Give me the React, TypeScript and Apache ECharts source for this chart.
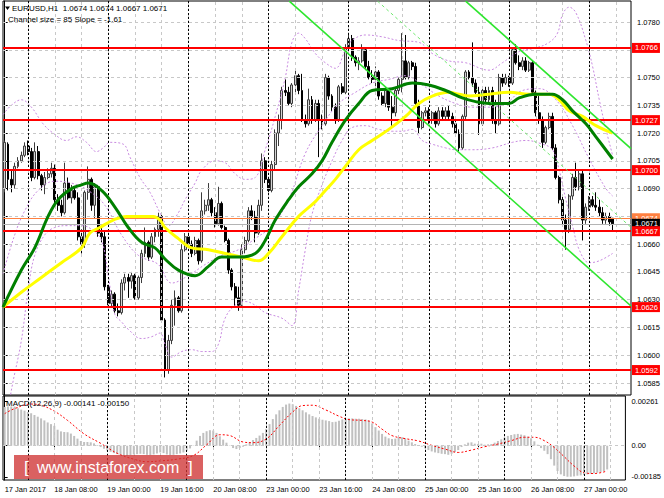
import React, { useEffect, useRef } from "react";
import * as echarts from "echarts";

const FONT = "'Liberation Sans', Arial, sans-serif";

// ---- axes / ticks ----
const slotCount = 188;
const categories = Array.from({ length: slotCount }, (_, i) => String(i));
const xTickIndex = [0, 15, 31, 47, 63, 79, 95, 111, 127, 143, 159, 175];
const xTickText = [
  "17 Jan 2017", "18 Jan 08:00", "19 Jan 00:00", "19 Jan 16:00", "20 Jan 08:00", "23 Jan 00:00",
  "23 Jan 16:00", "24 Jan 08:00", "25 Jan 00:00", "25 Jan 16:00", "26 Jan 08:00", "27 Jan 00:00",
];
const gridColumns = [7, 15, 23, 31, 39, 47, 55, 63, 71, 79, 87, 95, 103, 111, 119, 127, 135, 143, 151, 159, 167, 175, 183];
const daySeparators = [7, 31, 55, 79, 103, 127, 151, 175];
const priceTicks = [1.0585, 1.06, 1.0615, 1.063, 1.0645, 1.066, 1.0675, 1.069, 1.0705, 1.072, 1.0735, 1.075, 1.0765, 1.078];
// labels that are not covered by the price tags
const priceLabels = [1.0585, 1.06, 1.0615, 1.063, 1.0645, 1.066, 1.069, 1.0705, 1.072, 1.0735, 1.075, 1.078];
const macdTicks = [-0.00185, 0, 0.00261];

// ---- levels ----
const levelLines = [1.0766, 1.0727, 1.07, 1.0626, 1.0592];
const supportLevel = 1.0667;
const askPrice = 1.0674;
const bidPrice = 1.0671;

// ---- candles [open, close, low, high] ----
const candles = [
  [1.0690,1.0715,1.0688,1.0716],[1.0714,1.0695,1.0689,1.0715],[1.0695,1.0692,1.0688,1.0700],[1.0692,1.0702,1.0690,1.0704],
  [1.0702,1.0705,1.0701,1.0707],[1.0705,1.0708,1.0704,1.0710],[1.0708,1.0713,1.0707,1.0715],[1.0713,1.0710,1.0708,1.0716],
  [1.0710,1.0696,1.0694,1.0712],[1.0696,1.0710,1.0695,1.0715],[1.0710,1.0697,1.0695,1.0713],[1.0697,1.0692,1.0689,1.0698],
  [1.0692,1.0696,1.0687,1.0699],[1.0696,1.0698,1.0695,1.0701],[1.0698,1.0701,1.0696,1.0704],[1.0701,1.0684,1.0682,1.0703],
  [1.0684,1.0681,1.0678,1.0687],[1.0681,1.0677,1.0675,1.0684],[1.0677,1.0693,1.0676,1.0704],[1.0693,1.0685,1.0684,1.0696],
  [1.0685,1.0689,1.0682,1.0692],[1.0689,1.0685,1.0684,1.0691],[1.0685,1.0664,1.0662,1.0688],[1.0664,1.0660,1.0655,1.0668],
  [1.0660,1.0688,1.0658,1.0689],[1.0688,1.0695,1.0684,1.0702],[1.0695,1.0681,1.0678,1.0696],[1.0681,1.0691,1.0674,1.0693],
  [1.0691,1.0666,1.0664,1.0692],[1.0666,1.0664,1.0661,1.0670],[1.0664,1.0637,1.0635,1.0667],[1.0637,1.0628,1.0627,1.0638],
  [1.0628,1.0633,1.0626,1.0635],[1.0633,1.0624,1.0623,1.0634],[1.0624,1.0623,1.0621,1.0628],[1.0623,1.0639,1.0622,1.0641],
  [1.0639,1.0642,1.0635,1.0644],[1.0642,1.0640,1.0631,1.0644],[1.0640,1.0643,1.0636,1.0645],[1.0643,1.0631,1.0630,1.0644],
  [1.0631,1.0642,1.0630,1.0643],[1.0642,1.0655,1.0639,1.0657],[1.0655,1.0661,1.0653,1.0669],[1.0661,1.0653,1.0651,1.0662],
  [1.0653,1.0664,1.0652,1.0666],[1.0664,1.0668,1.0661,1.0669],[1.0668,1.0675,1.0664,1.0677],[1.0675,1.0619,1.0618,1.0676],
  [1.0619,1.0592,1.0588,1.0620],[1.0592,1.0608,1.0590,1.0611],[1.0608,1.0627,1.0606,1.0630],[1.0627,1.0631,1.0616,1.0635],
  [1.0631,1.0624,1.0623,1.0632],[1.0624,1.0657,1.0623,1.0660],[1.0657,1.0664,1.0656,1.0666],[1.0664,1.0660,1.0658,1.0666],
  [1.0660,1.0655,1.0653,1.0662],[1.0655,1.0662,1.0654,1.0664],[1.0662,1.0651,1.0649,1.0663],[1.0651,1.0678,1.0650,1.0688],
  [1.0678,1.0681,1.0676,1.0684],[1.0681,1.0684,1.0678,1.0693],[1.0684,1.0677,1.0675,1.0685],[1.0677,1.0671,1.0669,1.0680],
  [1.0671,1.0682,1.0670,1.0691],[1.0682,1.0669,1.0668,1.0683],[1.0669,1.0662,1.0661,1.0670],[1.0662,1.0646,1.0644,1.0663],
  [1.0646,1.0637,1.0635,1.0647],[1.0637,1.0631,1.0626,1.0639],[1.0631,1.0627,1.0624,1.0637],[1.0627,1.0657,1.0626,1.0660],
  [1.0657,1.0662,1.0655,1.0664],[1.0662,1.0678,1.0661,1.0680],[1.0678,1.0675,1.0673,1.0681],[1.0675,1.0666,1.0661,1.0678],
  [1.0666,1.0681,1.0665,1.0684],[1.0681,1.0705,1.0678,1.0709],[1.0705,1.0695,1.0693,1.0707],[1.0695,1.0689,1.0688,1.0696],
  [1.0689,1.0703,1.0688,1.0705],[1.0703,1.0720,1.0700,1.0722],[1.0720,1.0727,1.0713,1.0730],[1.0727,1.0743,1.0722,1.0745],
  [1.0743,1.0742,1.0740,1.0749],[1.0742,1.0736,1.0735,1.0745],[1.0736,1.0746,1.0734,1.0747],[1.0746,1.0751,1.0742,1.0754],
  [1.0751,1.0743,1.0741,1.0752],[1.0743,1.0727,1.0726,1.0752],[1.0727,1.0725,1.0723,1.0730],[1.0725,1.0738,1.0724,1.0744],
  [1.0738,1.0727,1.0725,1.0740],[1.0727,1.0736,1.0726,1.0738],[1.0736,1.0727,1.0707,1.0738],[1.0727,1.0725,1.0722,1.0730],
  [1.0725,1.0750,1.0724,1.0752],[1.0750,1.0740,1.0738,1.0751],[1.0740,1.0734,1.0732,1.0741],[1.0734,1.0727,1.0725,1.0736],
  [1.0727,1.0745,1.0726,1.0746],[1.0745,1.0742,1.0741,1.0747],[1.0742,1.0766,1.0741,1.0768],[1.0766,1.0771,1.0765,1.0773],
  [1.0771,1.0761,1.0759,1.0773],[1.0761,1.0758,1.0756,1.0762],[1.0758,1.0759,1.0754,1.0761],[1.0759,1.0765,1.0758,1.0768],
  [1.0765,1.0756,1.0754,1.0766],[1.0756,1.0750,1.0749,1.0759],[1.0750,1.0749,1.0747,1.0754],[1.0749,1.0753,1.0743,1.0756],
  [1.0753,1.0740,1.0738,1.0754],[1.0740,1.0736,1.0735,1.0742],[1.0736,1.0743,1.0734,1.0745],[1.0743,1.0734,1.0732,1.0744],
  [1.0734,1.0731,1.0724,1.0740],[1.0731,1.0743,1.0729,1.0745],[1.0743,1.0749,1.0741,1.0750],[1.0749,1.0759,1.0742,1.0774],
  [1.0759,1.0750,1.0749,1.0773],[1.0750,1.0758,1.0749,1.0759],[1.0758,1.0756,1.0754,1.0759],[1.0756,1.0736,1.0734,1.0758],
  [1.0736,1.0723,1.0720,1.0738],[1.0723,1.0731,1.0722,1.0732],[1.0731,1.0732,1.0729,1.0734],[1.0732,1.0727,1.0725,1.0734],
  [1.0727,1.0731,1.0725,1.0732],[1.0731,1.0725,1.0723,1.0732],[1.0725,1.0732,1.0724,1.0734],[1.0732,1.0729,1.0727,1.0734],
  [1.0729,1.0732,1.0727,1.0734],[1.0732,1.0729,1.0727,1.0735],[1.0729,1.0725,1.0723,1.0731],[1.0725,1.0720,1.0718,1.0727],
  [1.0720,1.0712,1.0710,1.0722],[1.0712,1.0729,1.0711,1.0730],[1.0729,1.0753,1.0727,1.0754],[1.0753,1.0750,1.0749,1.0754],
  [1.0750,1.0747,1.0745,1.0769],[1.0747,1.0742,1.0741,1.0749],[1.0742,1.0725,1.0719,1.0745],[1.0725,1.0743,1.0724,1.0745],
  [1.0743,1.0738,1.0736,1.0745],[1.0738,1.0743,1.0736,1.0745],[1.0743,1.0727,1.0725,1.0745],[1.0727,1.0725,1.0720,1.0738],
  [1.0725,1.0750,1.0724,1.0752],[1.0750,1.0747,1.0745,1.0752],[1.0747,1.0750,1.0746,1.0752],[1.0750,1.0747,1.0745,1.0751],
  [1.0747,1.0765,1.0746,1.0766],[1.0765,1.0758,1.0757,1.0768],[1.0758,1.0756,1.0754,1.0762],[1.0756,1.0759,1.0754,1.0761],
  [1.0759,1.0754,1.0753,1.0761],[1.0754,1.0758,1.0753,1.0759],[1.0758,1.0742,1.0741,1.0759],[1.0742,1.0731,1.0729,1.0743],
  [1.0731,1.0727,1.0725,1.0740],[1.0727,1.0715,1.0712,1.0729],[1.0715,1.0723,1.0714,1.0724],[1.0723,1.0729,1.0722,1.0731],
  [1.0729,1.0712,1.0711,1.0731],[1.0712,1.0696,1.0695,1.0714],[1.0696,1.0684,1.0682,1.0697],[1.0684,1.0673,1.0670,1.0686],
  [1.0673,1.0668,1.0657,1.0676],[1.0668,1.0686,1.0666,1.0687],[1.0686,1.0696,1.0684,1.0698],[1.0696,1.0691,1.0689,1.0704],
  [1.0691,1.0698,1.0689,1.0700],[1.0698,1.0673,1.0662,1.0700],[1.0673,1.0680,1.0671,1.0682],[1.0680,1.0684,1.0678,1.0686],
  [1.0684,1.0681,1.0680,1.0686],[1.0681,1.0680,1.0678,1.0688],[1.0680,1.0677,1.0675,1.0684],[1.0677,1.0673,1.0671,1.0680],
  [1.0673,1.0675,1.0671,1.0677],[1.0675,1.0672,1.0670,1.0677],[1.0674,1.0671,1.0667,1.0674],
];

// ---- moving averages [bar, price] ----
const greenMA = [
  [-0.5,1.0626],[5,1.0646],[9,1.0658],[13,1.0675],[16,1.0684],[20,1.0690],[23,1.0692],[25,1.0693],[29,1.0689],
  [33,1.0680],[37,1.0669],[41,1.0661],[45,1.0658],[48,1.0652],[52,1.0646],[57,1.0643],[61,1.0648],[65,1.0653],
  [70,1.0653],[75,1.0655],[78,1.0662],[81,1.0673],[85,1.0684],[88,1.0691],[92,1.0698],[95,1.0705],[98,1.0715],
  [102,1.0727],[106,1.0736],[110,1.0743],[116,1.0744],[122,1.0747],[127,1.0746],[132,1.0743],[137,1.0739],
  [141,1.0737],[145,1.0736],[151,1.0736],[154,1.0739],[159,1.0741],[164,1.0741],[167,1.0738],[170,1.0732],
  [174,1.0725],[177,1.0718],[182,1.0706],
];
const yellowMA = [
  [-0.5,1.0626],[5,1.0634],[11,1.0642],[17,1.0650],[23,1.0658],[25.5,1.0666],[28.5,1.0669],[32.5,1.0673],
  [36.5,1.0675],[40.5,1.0675],[44.5,1.0675],[46.5,1.0673],[48,1.0669],[52,1.0663],[56,1.0658],[61,1.0657],
  [66,1.0655],[71,1.0653],[76,1.0651],[79,1.0655],[83,1.0664],[88,1.0675],[93,1.0683],[96,1.0689],[99,1.0695],
  [102,1.0702],[106,1.0711],[110,1.0716],[115,1.0722],[120,1.0729],[124,1.0736],[128,1.0740],[133,1.0742],
  [136,1.0741],[139,1.0740],[145,1.0741],[151,1.0742],[157,1.0741],[163,1.0741],[166,1.0738],[169,1.0732],
  [173,1.0729],[177,1.0724],[182,1.0720],
];

// ---- bands [bar, price] ----
const bandUpper = [
  [-0.5,1.0730],[2,1.0735],[5,1.0738],[8,1.0734],[11.5,1.0725],[14.5,1.0720],[18.5,1.0716],[21.5,1.0718],
  [24.5,1.0715],[27.5,1.0710],[29.5,1.0712],[31.5,1.0715],[35.5,1.0714],[37.5,1.0707],[40.5,1.0696],
  [43.5,1.0688],[46.5,1.0677],[49,1.0670],[52,1.0677],[54,1.0684],[57,1.0693],[59,1.0700],[63,1.0705],
  [66,1.0704],[69,1.0698],[72,1.0695],[75,1.0696],[78,1.0711],[81,1.0729],[84,1.0750],[86,1.0769],[88,1.0774],
  [90,1.0771],[93,1.0763],[96,1.0758],[99,1.0755],[102,1.0765],[104,1.0770],[108,1.0773],[113,1.0772],
  [118,1.0770],[124,1.0769],[128,1.0763],[133,1.0759],[138,1.0758],[145,1.0754],[149,1.0758],[154,1.0764],
  [159,1.0766],[163,1.0769],[165.5,1.0774],[167,1.0784],[169,1.0788],[171,1.0785],[174,1.0770],[176,1.0756],
  [178,1.0738],[180,1.0722],[182,1.0708],
];
const bandMiddle = [
  [-0.5,1.0644],[3,1.0665],[6,1.0678],[10,1.0689],[15,1.0694],[20,1.0693],[25,1.0689],[30,1.0681],[35,1.0665],
  [40,1.0654],[46,1.0649],[50,1.0639],[55,1.0643],[60,1.0649],[65,1.0654],[70,1.0657],[75,1.0663],[80,1.0670],
  [85,1.0684],[90,1.0709],[95,1.0724],[100,1.0736],[105,1.0742],[110,1.0747],[115,1.0749],[120,1.0751],
  [125,1.0746],[130,1.0740],[135,1.0736],[140,1.0734],[145,1.0734],[150,1.0736],[155,1.0743],[160,1.0744],
  [165,1.0738],[170,1.0724],[175,1.0706],[180,1.0690],[182,1.0686],
];
const bandLower = [
  [1,1.0568],[2,1.0581],[5,1.0608],[7,1.0635],[9,1.0654],[12,1.0665],[15,1.0669],[19,1.0670],[23,1.0670],
  [26,1.0668],[29,1.0662],[31,1.0643],[33,1.0622],[35,1.0618],[37,1.0614],[41,1.0609],[44,1.0610],[46.5,1.0612],
  [48,1.0606],[50,1.0599],[53,1.0602],[56,1.0603],[59,1.0602],[62,1.0602],[64,1.0606],[66,1.0620],[69,1.0627],
  [72,1.0629],[75,1.0627],[78,1.0623],[83,1.0620],[86,1.0616],[88,1.0635],[90,1.0657],[92,1.0676],[95,1.0692],
  [98,1.0705],[101,1.0716],[104,1.0723],[108,1.0724],[112,1.0722],[116,1.0721],[119,1.0721],[122,1.0722],
  [125,1.0716],[128,1.0714],[132,1.0712],[135,1.0711],[140,1.0711],[146,1.0712],[152,1.0715],[156,1.0716],
  [161,1.0714],[164,1.0711],[166,1.0700],[168,1.0684],[170,1.0670],[172,1.0657],[175,1.0650],[178,1.0651],
  [182,1.0655],
];

// ---- regression channel (size 85, slope -1.61) ----
const channelUpper = [[138.0, 1.07913], [187.5, 1.07116]];
const channelMiddle = [[111.6, 1.07913], [187.5, 1.06691]];
const channelLower = [[85.2, 1.07913], [187.5, 1.06266]];

// ---- MACD ----
const macdHist = [
  0.00230,0.00232,0.00233,0.00232,
  0.00222,0.00214,0.00208,0.00200,0.00192,0.00182,
  0.00172,0.00162,0.00150,
  0.00138,0.00128,0.00118,
  0.00095,0.00085,0.00082,0.00080,0.00072,
  0.00058,0.00042,
  0.00028,0.00022,0.00022,0.00020,0.00014,
  0.00004,-0.00008,-0.00018,-0.00028,
  -0.00036,-0.00044,-0.00050,-0.00055,-0.00058,-0.00060,-0.00056,-0.00052,-0.00050,-0.00048,-0.00050,-0.00054,
  -0.00056,-0.00052,-0.00046,-0.00040,-0.00044,-0.00052,-0.00056,-0.00054,-0.00050,-0.00046,-0.00040,
  -0.00030,-0.00016,0.00002,
  0.00030,0.00058,0.00076,0.00086,0.00092,0.00090,
  0.00076,0.00056,0.00036,0.00018,0.00002,
  -0.00014,-0.00020,-0.00014,-0.00006,
  0.00008,0.00020,0.00034,0.00046,0.00060,0.00076,
  0.00100,0.00128,0.00158,0.00186,0.00210,0.00230,0.00244,0.00250,
  0.00246,0.00236,0.00222,0.00210,0.00198,0.00186,0.00176,0.00168,0.00160,0.00154,0.00150,0.00146,
  0.00140,0.00142,0.00148,
  0.00156,0.00160,0.00162,0.00162,0.00160,0.00160,0.00158,0.00156,0.00150,
  0.00132,0.00110,0.00090,0.00070,0.00054,
  0.00044,0.00040,0.00042,0.00048,0.00050,0.00044,
  0.00030,0.00020,0.00010,0.00002,-0.00006,
  -0.00016,-0.00026,-0.00034,-0.00040,-0.00044,-0.00048,-0.00050,-0.00054,-0.00048,-0.00038,-0.00026,
  -0.00008,0.00008,0.00018,0.00020,
  0.00012,0.00010,0.00012,0.00006,0.00008,0.00010,0.00018,0.00028,
  0.00038,0.00048,0.00058,0.00064,0.00068,0.00070,0.00066,0.00062,0.00054,0.00044,
  0.00026,0.00006,-0.00014,-0.00030,-0.00050,-0.00080,-0.00118,
  -0.00150,-0.00170,-0.00180,-0.00184,-0.00184,-0.00182,-0.00178,-0.00176,-0.00174,-0.00170,-0.00166,-0.00164,
  -0.00160,-0.00156,-0.00150,-0.00141,
];
const macdSignal = [
  [0,0.00190],[3,0.00220],[8,0.00247],[11,0.00240],[15,0.00205],[19,0.00150],[24,0.00070],[29,0.00014],
  [34,-0.00045],[39,-0.00080],[43,-0.00095],[47,-0.00090],[52,-0.00080],[57,-0.00058],[61,0.00005],[65,0.00065],
  [68,0.00060],[72,0.00022],[75,0.00018],[79,0.00040],[83,0.00120],[87,0.00200],[90,0.00238],[93,0.00240],
  [97,0.00212],[101,0.00175],[104,0.00155],[108,0.00150],[111,0.00140],[114,0.00098],[117,0.00060],[121,0.00042],
  [125,0.00028],[129,0.00002],[133,-0.00020],[137,-0.00040],[141,-0.00026],[145,-0.00006],[149,0.00010],
  [153,0.00030],[157,0.00050],[160,0.00050],[163,0.00030],[166,-0.00010],[169,-0.00065],[172,-0.00120],
  [175,-0.00160],[178,-0.00165],[182,-0.00150],
];

// ---- layout constants ----
const PRICE_MIN = 1.057852;
const PRICE_MAX = 1.079135;
const MACD_MIN = -0.002034;
const MACD_MAX = 0.002948;

function tag(text: string, bg: string, fg = "#ffffff") {
  return {
    show: true,
    position: "end",
    formatter: text,
    color: fg,
    backgroundColor: bg,
    fontSize: 7.5,
    fontFamily: FONT,
    padding: [1, 2, 1, 3],
    lineHeight: 8,
    distance: 1,
  };
}

function buildOption() {
  const tickSet = new Set(xTickIndex);
  const gridLine = { color: "#c8c8c8", width: 1, type: [3, 3] };
  const sepLine = { color: "#000000", width: 1, type: [2, 2] };
  const bandStyle = { color: "#c88ae0", width: 1, type: [2, 2] };

  const markBase = { silent: true, symbol: ["none", "none"], animation: false, precision: 8, label: { show: false } };

  return {
    animation: false,
    backgroundColor: "#ffffff",
    textStyle: { fontFamily: FONT },
    grid: [
      { left: 3, top: 1, width: 628, height: 394, show: true, borderColor: "#000", borderWidth: 1, backgroundColor: "transparent" },
      { left: 3, top: 396, width: 628, height: 84, show: true, borderColor: "#000", borderWidth: 1, backgroundColor: "transparent" },
    ],
    xAxis: [
      { type: "category", gridIndex: 0, data: categories, boundaryGap: true, show: false, position: "bottom" },
      { type: "value", gridIndex: 0, min: -0.5, max: 187.5, show: false, position: "top" },
      {
        type: "category", gridIndex: 1, data: categories, boundaryGap: true, position: "bottom",
        axisLine: { show: false },
        axisTick: { show: true, alignWithLabel: true, length: 3, interval: (i: number) => tickSet.has(i), lineStyle: { color: "#000" } },
        axisLabel: {
          show: true, interval: (i: number) => tickSet.has(i), align: "left", margin: 5,
          fontSize: 7.5, color: "#000", fontFamily: FONT,
          formatter: (_v: string, i: number) => {
            const k = xTickIndex.indexOf(i);
            return k >= 0 ? xTickText[k] : "";
          },
        },
        splitLine: { show: false },
      },
      { type: "value", gridIndex: 1, min: -0.5, max: 187.5, show: false, position: "top" },
    ],
    yAxis: [
      {
        type: "value", gridIndex: 0, position: "right", min: PRICE_MIN, max: PRICE_MAX,
        axisLine: { show: true, lineStyle: { color: "#000" } },
        axisTick: { show: true, length: 3, customValues: priceTicks, lineStyle: { color: "#000" } },
        axisLabel: { customValues: priceLabels, formatter: (v: number) => v.toFixed(4), fontSize: 7.5, color: "#000", margin: 6, fontFamily: FONT },
        splitLine: { show: false },
      },
      {
        type: "value", gridIndex: 1, position: "right", min: MACD_MIN, max: MACD_MAX,
        axisLine: { show: true, lineStyle: { color: "#000" } },
        axisTick: { show: true, length: 3, customValues: macdTicks, lineStyle: { color: "#000" } },
        axisLabel: {
          customValues: macdTicks,
          formatter: (v: number) => (Math.abs(v) < 1e-9 ? "0.00" : v.toFixed(5)),
          fontSize: 7.5, color: "#000", margin: 6, fontFamily: FONT,
        },
        splitLine: { show: false },
      },
    ],
    series: [
      // grid lines main
      {
        type: "line", xAxisIndex: 1, yAxisIndex: 0, data: [], z: 1,
        markLine: { ...markBase, lineStyle: gridLine, data: [...priceTicks.map((v) => ({ yAxis: v })), ...gridColumns.map((v) => ({ xAxis: v }))] },
      },
      {
        type: "line", xAxisIndex: 1, yAxisIndex: 0, data: [], z: 1,
        markLine: { ...markBase, lineStyle: sepLine, data: daySeparators.map((v) => ({ xAxis: v })) },
      },
      // candles
      {
        type: "candlestick", xAxisIndex: 0, yAxisIndex: 0, data: candles, barWidth: 2.4, z: 3,
        itemStyle: { color: "#d4d4d4", color0: "#000000", borderColor: "#3c3c3c", borderColor0: "#000000", borderWidth: 1 },
      },
      // bands
      { type: "line", xAxisIndex: 1, yAxisIndex: 0, data: bandUpper, showSymbol: false, smooth: 0.4, lineStyle: bandStyle, z: 4 },
      { type: "line", xAxisIndex: 1, yAxisIndex: 0, data: bandMiddle, showSymbol: false, smooth: 0.4, lineStyle: bandStyle, z: 4 },
      { type: "line", xAxisIndex: 1, yAxisIndex: 0, data: bandLower, showSymbol: false, smooth: 0.4, lineStyle: bandStyle, z: 4 },
      // moving averages
      { type: "line", xAxisIndex: 1, yAxisIndex: 0, data: yellowMA, showSymbol: false, smooth: 0.4, lineStyle: { color: "#ffff00", width: 3 }, z: 5 },
      { type: "line", xAxisIndex: 1, yAxisIndex: 0, data: greenMA, showSymbol: false, smooth: 0.4, lineStyle: { color: "#008000", width: 3 }, z: 5 },
      // channel
      { type: "line", xAxisIndex: 1, yAxisIndex: 0, data: channelUpper, showSymbol: false, lineStyle: { color: "#2ee62e", width: 1.6 }, z: 6 },
      { type: "line", xAxisIndex: 1, yAxisIndex: 0, data: channelMiddle, showSymbol: false, lineStyle: { color: "#6ee86e", width: 1, type: [3, 3] }, z: 6 },
      { type: "line", xAxisIndex: 1, yAxisIndex: 0, data: channelLower, showSymbol: false, lineStyle: { color: "#2ee62e", width: 1.6 }, z: 6 },
      // red levels
      {
        type: "line", xAxisIndex: 1, yAxisIndex: 0, data: [], z: 7,
        markLine: {
          ...markBase,
          data: levelLines.map((v) => ({ yAxis: v, lineStyle: { color: "#ff0000", width: 2, type: "solid" }, label: tag(v.toFixed(4), "#ff0000") })),
        },
      },
      {
        type: "line", xAxisIndex: 1, yAxisIndex: 0, data: [], z: 8,
        markLine: { ...markBase, data: [{ yAxis: askPrice, lineStyle: { color: "#ff8040", width: 1, type: "solid" }, label: tag(askPrice.toFixed(4), "#ff8040") }] },
      },
      {
        type: "line", xAxisIndex: 1, yAxisIndex: 0, data: [], z: 9,
        markLine: { ...markBase, data: [{ yAxis: bidPrice, lineStyle: { color: "#b4b4b4", width: 1, type: "solid" }, label: tag(bidPrice.toFixed(4), "#000000") }] },
      },
      {
        type: "line", xAxisIndex: 1, yAxisIndex: 0, data: [], z: 10,
        markLine: { ...markBase, data: [{ yAxis: supportLevel, lineStyle: { color: "#ff0000", width: 2, type: "solid" }, label: tag(supportLevel.toFixed(4), "#ff0000") }] },
      },
      // MACD grid lines
      {
        type: "line", xAxisIndex: 3, yAxisIndex: 1, data: [], z: 1,
        markLine: { ...markBase, lineStyle: gridLine, data: [{ yAxis: 0 }, ...gridColumns.map((v) => ({ xAxis: v }))] },
      },
      {
        type: "line", xAxisIndex: 3, yAxisIndex: 1, data: [], z: 1,
        markLine: { ...markBase, lineStyle: sepLine, data: daySeparators.map((v) => ({ xAxis: v })) },
      },
      { type: "bar", xAxisIndex: 2, yAxisIndex: 1, data: macdHist, barWidth: 2, itemStyle: { color: "#c0c0c0" }, z: 3 },
      { type: "line", xAxisIndex: 3, yAxisIndex: 1, data: macdSignal, showSymbol: false, smooth: 0.4, lineStyle: { color: "#ff0000", width: 1, type: [2, 2] }, z: 4 },
    ],
    graphic: [
      { type: "polygon", shape: { points: [[5, 6.5], [10, 6.5], [7.5, 10]] }, style: { fill: "#000" }, z: 100 },
      { type: "text", x: 12, y: 8.5, z: 100, style: { text: "EURUSD,H1  1.0674 1.0674 1.0667 1.0671", fill: "#000", font: `8px ${FONT}`, textVerticalAlign: "middle" } },
      { type: "text", x: 8, y: 19.5, z: 100, style: { text: "Channel size = 85 Slope = -1.61", fill: "#000", font: `8px ${FONT}`, textVerticalAlign: "middle" } },
      { type: "text", x: 6, y: 403.5, z: 100, style: { text: "MACD(12,26,9) -0.00141 -0.00150", fill: "#000", font: `8px ${FONT}`, textVerticalAlign: "middle" } },
      { type: "rect", shape: { x: 14, y: 455, width: 189, height: 24 }, style: { fill: "rgba(208,52,52,0.78)" }, z: 100 },
      { type: "text", x: 24, y: 467, z: 101, style: { text: "[", fill: "#fff", font: `17px ${FONT}`, textVerticalAlign: "middle" } },
      { type: "text", x: 37, y: 467, z: 101, style: { text: "www.instaforex.com", fill: "#fff", font: `16px ${FONT}`, textVerticalAlign: "middle" } },
      { type: "text", x: 188, y: 467, z: 101, style: { text: "]", fill: "#fff", font: `17px ${FONT}`, textVerticalAlign: "middle" } },
    ],
  };
}

export default function App() {
  const ref = useRef<HTMLDivElement>(null);
  useEffect(() => {
    if (!ref.current) return;
    const chart = echarts.init(ref.current, null, { renderer: "svg" });
    chart.setOption(buildOption() as any);
    return () => chart.dispose();
  }, []);
  return (
    <div
      ref={ref}
      style={{ position: "absolute", left: 0, top: 0, width: 664, height: 498, background: "#fff" }}
    />
  );
}
